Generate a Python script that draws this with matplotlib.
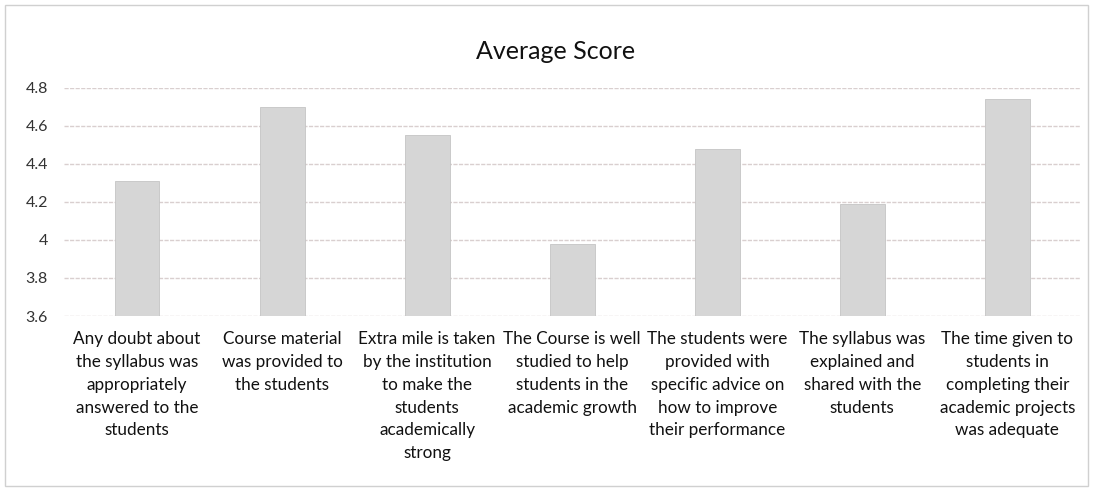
import matplotlib.pyplot as plt
from matplotlib.patches import Rectangle

plt.rcParams['font.family'] = ['Lato', 'DejaVu Sans']

# data
categories = [
    "Any doubt about\nthe syllabus was\nappropriately\nanswered to the\nstudents",
    "Course material\nwas provided to\nthe students",
    "Extra mile is taken\nby the institution\nto make the\nstudents\nacademically\nstrong",
    "The Course is well\nstudied to help\nstudents in the\nacademic growth",
    "The students were\nprovided with\nspecific advice on\nhow to improve\ntheir performance",
    "The syllabus was\nexplained and\nshared with the\nstudents",
    "The time given to\nstudents in\ncompleting their\nacademic projects\nwas adequate",
]
scores = [4.31, 4.70, 4.55, 3.98, 4.48, 4.19, 4.74]
yticks = [3.6, 3.8, 4.0, 4.2, 4.4, 4.6, 4.8]
ytick_labels = ["3.6", "3.8", "4", "4.2", "4.4", "4.6", "4.8"]

fig = plt.figure(figsize=(10.93, 4.93), dpi=100)
ax = fig.add_axes([0.059, 0.359, 0.929, 0.463])

x = list(range(len(categories)))
ax.bar(x, [s - yticks[0] for s in scores], bottom=yticks[0], width=0.31,
       color='#d6d6d6', edgecolor='#c4c4c4', linewidth=0.6, zorder=2)

ax.set_ylim(yticks[0], yticks[-1])
ax.set_xlim(-0.5, len(categories) - 0.5)
ax.set_yticks(yticks)
ax.set_yticklabels(ytick_labels, fontsize=11.5, color='#333333')
ax.set_xticks(x)
ax.set_xticklabels(categories, fontsize=12.3, color='#111111', linespacing=1.52, va='top')
ax.tick_params(axis='both', length=0)
ax.tick_params(axis='y', pad=12)
ax.tick_params(axis='x', pad=11)

ax.grid(axis='y', color='#d9cfcf', linewidth=1.0, linestyle=(0, (3, 1)), zorder=0)
for side in ax.spines.values():
    side.set_visible(False)

fig.text(0.508, 0.895, "Average Score", ha='center', va='center', fontsize=18, color='#111111')

# outer chart frame
fig.patches.append(Rectangle((0.005, 0.015), 0.99, 0.975, transform=fig.transFigure,
                             fill=False, edgecolor='#d0d0d0', linewidth=1.0))

fig.savefig('out.png', dpi=100, facecolor='white')
